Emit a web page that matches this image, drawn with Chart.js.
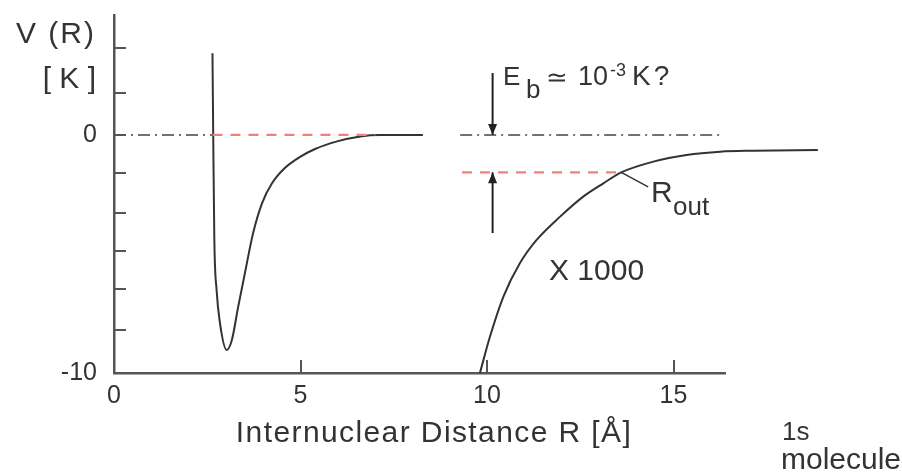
<!DOCTYPE html>
<html>
<head>
<meta charset="utf-8">
<script src="https://cdn.jsdelivr.net/npm/chart.js@4.4.1/dist/chart.umd.min.js"></script>
<style>
  html, body { margin: 0; background: #fff; }
  #wrap { width: 902px; height: 472px; }
</style>
</head>
<body>
<div id="wrap"><canvas id="c"></canvas></div>
<script>
// bound-state potential V(R) in K, R in Angstrom
const wellR = [2.64, 2.66, 2.69, 2.75, 2.84, 3.02, 3.16, 3.33, 3.51, 3.73, 3.97, 4.24, 4.58, 4.99, 5.39, 5.98, 6.60, 7.13, 8.28];
const wellV = [3.43, 0, -4.41, -6.51, -7.90, -9.03, -8.61, -7.21, -5.80, -4.12, -2.86, -2.02, -1.39, -0.92, -0.59, -0.27, -0.06, 0, 0];

// long range tail, magnified x1000
const tailR = [9.81, 10.08, 10.44, 10.88, 11.33, 11.96, 12.58, 13.12, 13.60, 14.46, 15.35, 16.25, 17.13, 18.87];
const tailV = [-10, -8.47, -6.79, -5.39, -4.41, -3.43, -2.59, -2.03, -1.57, -1.12, -0.84, -0.70, -0.66, -0.63];

// zero level (dash-dot) and binding level (red dashes)
const zeroLeftR = [0, 2.64];
const zeroRightR = [9.28, 16.25];
const boundLeftR = [2.64, 7.0];
const boundRightR = [9.33, 13.60];
const boundV = -1.57;

// E_b arrows and R_out pointer
const arrowR = 10.15;
const arrowDownV = [2.6, 0];
const arrowUpV = [-4.12, boundV];
const pointerR = [13.60, 14.32];
const pointerV = [boundV, -2.18];

// axes
const xRange = [0, 16.38];
const yRange = [-10, 5.04];
const xTicks = [0, 5, 10, 15];
const xTickLabels = ['0', '5', '10', '15'];
const yTicks = [-10, -8.19, -6.47, -4.87, -3.28, -1.6, 0, 1.76, 3.66];
const yTickLabels = ['-10', '', '', '', '', '', '0', '', ''];

const pts = (xs, ys) => xs.map((x, i) => ({ x, y: Array.isArray(ys) ? ys[i] : ys }));

const INK = '#333';
const AXIS = '#555';
const RED = '#f08080';
const FONT = '"Liberation Sans", Arial, Helvetica, sans-serif';

Chart.defaults.font.family = FONT;
Chart.defaults.color = '#333';

function line(data, color, width, dash, extra) {
  return Object.assign({
    data, borderColor: color, borderWidth: width, borderDash: dash || [],
    pointRadius: 0, showLine: true, fill: false, clip: false, tension: 0
  }, extra || {});
}

// inward tick marks on both axes
const innerTicks = {
  id: 'innerTicks',
  afterDatasetsDraw(chart) {
    const { ctx, chartArea: a, scales: { x, y } } = chart;
    ctx.save();
    ctx.strokeStyle = AXIS;
    ctx.lineWidth = 2;
    ctx.beginPath();
    yTicks.forEach(v => {
      if (v === -10) return;
      const py = Math.round(y.getPixelForValue(v));
      ctx.moveTo(a.left, py);
      ctx.lineTo(a.left + 12, py);
    });
    xTicks.forEach(v => {
      if (v === 0) return;
      const px = Math.round(x.getPixelForValue(v));
      ctx.moveTo(px, a.bottom);
      ctx.lineTo(px, a.bottom - 13);
    });
    ctx.stroke();
    ctx.restore();
  }
};

// arrow heads at the last point of datasets flagged with `arrow`
const arrowHeads = {
  id: 'arrowHeads',
  afterDatasetsDraw(chart) {
    const ctx = chart.ctx;
    chart.data.datasets.forEach((ds, i) => {
      if (!ds.arrow) return;
      const el = chart.getDatasetMeta(i).data;
      const p1 = el[el.length - 1], p0 = el[el.length - 2];
      const ang = Math.atan2(p1.y - p0.y, p1.x - p0.x);
      ctx.save();
      ctx.translate(p1.x, p1.y);
      ctx.rotate(ang);
      ctx.fillStyle = ds.borderColor;
      ctx.beginPath();
      ctx.moveTo(0, 0);
      ctx.lineTo(-11, -4.5);
      ctx.lineTo(-11, 4.5);
      ctx.closePath();
      ctx.fill();
      ctx.restore();
    });
  }
};

// axis captions and annotations
const labels = {
  id: 'labels',
  afterDraw(chart) {
    const ctx = chart.ctx;
    const t = (s, x, y, size, align, spacing) => {
      ctx.font = size + 'px ' + FONT;
      ctx.textAlign = align || 'left';
      ctx.textBaseline = 'alphabetic';
      ctx.letterSpacing = (spacing || 0) + 'px';
      ctx.fillText(s, x, y);
    };
    ctx.save();
    ctx.fillStyle = '#333';
    t('V (R)', 96, 43, 30, 'right', 2);
    t('[ K ]', 96, 88, 30, 'right');
    t('Internuclear Distance R [Å]', 434, 442, 30, 'center', 1.4);
    t('1s', 782, 440, 26);
    t('molecule', 781, 469, 30);
    t('X 1000', 549, 280, 30);
    t('E', 503, 85, 26);
    t('b', 526, 98, 26);
    t('≃', 546, 86, 26);
    t('10', 578, 85, 27);
    t('-3', 610, 76, 18);
    t('K?', 632, 85, 28, 'left', 3);
    t('R', 651, 202, 30);
    t('out', 673, 215, 26);
    ctx.restore();
  }
};

new Chart(document.getElementById('c'), {
  type: 'scatter',
  data: {
    datasets: [
      line(pts(zeroLeftR, 0), '#444', 1.5, [12, 5, 2, 5]),
      line(pts(zeroRightR, 0), '#444', 1.5, [12, 5, 2, 5]),
      line(pts(boundLeftR, 0), RED, 2.2, [10, 8]),
      line(pts(boundRightR, boundV), RED, 2.2, [10, 8]),
      line(pts(wellR, wellV), INK, 2, [], { cubicInterpolationMode: 'monotone' }),
      line(pts(tailR, tailV), INK, 2, [], { cubicInterpolationMode: 'monotone' }),
      line(pts(pointerR, pointerV), INK, 1.5),
      line(pts([arrowR, arrowR], arrowDownV), '#222', 2, [], { arrow: true }),
      line(pts([arrowR, arrowR], arrowUpV), '#222', 2, [], { arrow: true })
    ]
  },
  options: {
    responsive: true,
    maintainAspectRatio: false,
    animation: false,
    events: [],
    layout: { padding: { left: 0, top: 15, right: 177, bottom: 0 } },
    plugins: { legend: { display: false }, tooltip: { enabled: false } },
    scales: {
      x: {
        type: 'linear',
        bounds: 'data',
        // range set after data limits so the tail past the axis end is still drawn
        afterDataLimits: s => { s.min = xRange[0]; s.max = xRange[1]; },
        afterBuildTicks: s => { s.ticks = xTicks.map(value => ({ value })); },
        afterFit: s => { s.height = 99; s.paddingLeft = 0; s.paddingRight = 0; },
        grid: { display: false, drawTicks: false },
        border: { display: true, color: AXIS, width: 2.5 },
        ticks: { padding: 8, color: '#333', font: { size: 25 }, callback: (v, i) => xTickLabels[i] }
      },
      y: {
        type: 'linear', min: yRange[0], max: yRange[1],
        afterBuildTicks: s => { s.ticks = yTicks.map(value => ({ value })); },
        afterFit: s => { s.width = 114; s.paddingTop = 0; s.paddingBottom = 0; },
        grid: { display: false, drawTicks: false },
        border: { display: true, color: AXIS, width: 2.5 },
        ticks: { padding: 17, color: '#333', font: { size: 25 }, autoSkip: false, callback: (v, i) => yTickLabels[i] }
      }
    }
  },
  plugins: [innerTicks, arrowHeads, labels]
});
</script>
</body>
</html>
